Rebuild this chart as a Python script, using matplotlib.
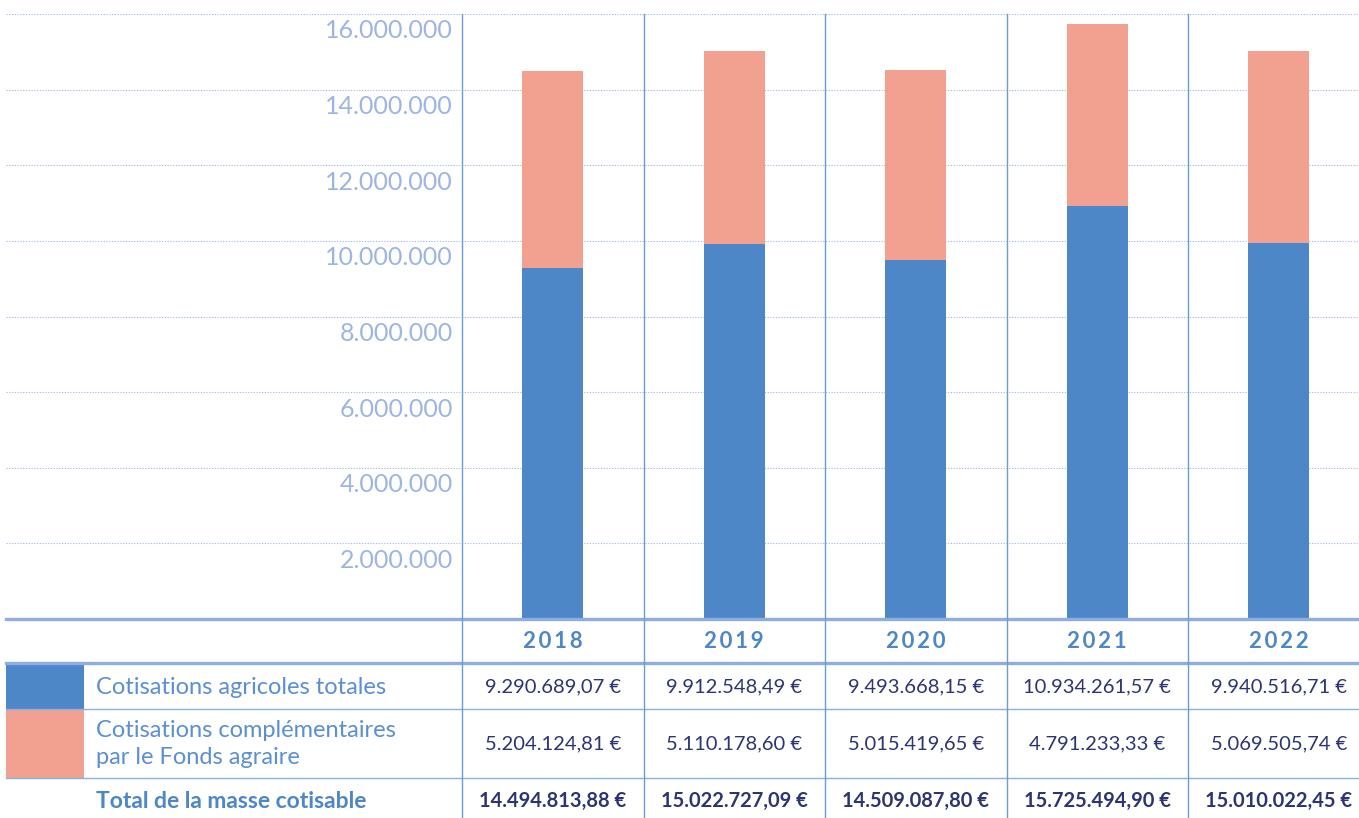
import matplotlib.pyplot as plt
from matplotlib.transforms import offset_copy
from matplotlib.patches import Rectangle

plt.rcParams['font.family'] = ['Lato', 'DejaVu Sans']

# Données
annees = ['2018', '2019', '2020', '2021', '2022']
cotis_agricoles = [9290689.07, 9912548.49, 9493668.15, 10934261.57, 9940516.71]
cotis_complementaires = [5204124.81, 5110178.60, 5015419.65, 4791233.33, 5069505.74]
totaux = [14494813.88, 15022727.09, 14509087.80, 15725494.90, 15010022.45]
graduations = [2e6, 4e6, 6e6, 8e6, 10e6, 12e6, 14e6, 16e6]
libelles = ['Cotisations agricoles totales',
            'Cotisations complémentaires\npar le Fonds agraire',
            'Total de la masse cotisable']

bleu = '#4D87C7'
saumon = '#F2A08F'
bleu_clair = '#9DB5E3'
bleu_texte = '#5A8FD3'
marine = '#2B3572'
ligne = '#8EAEE0'


def euro(v):
    s = f'{v:,.2f}'.replace(',', ' ').replace('.', ',').replace(' ', '.')
    return s + ' €'


W, H = 1359, 818
fig = plt.figure(figsize=(W / 100, H / 100), dpi=100)

# Zone du graphique (px : x 6 -> 1359, y 14 -> 619)
col_w = 181.5
x0_px = 462
ax = fig.add_axes([6 / W, (H - 619) / H, (W - 6) / W, (619 - 14) / H])
ax.set_ylim(0, 16e6)
ax.set_xlim(-0.5 - (x0_px - 6) / col_w, -0.5 + (W - x0_px) / col_w)
x = list(range(len(annees)))
ax.bar(x, cotis_agricoles, width=0.336, color=bleu, zorder=3)
ax.bar(x, cotis_complementaires, bottom=cotis_agricoles, width=0.336, color=saumon, zorder=3)
ax.set_yticks(graduations)
ax.yaxis.grid(True, linestyle=(0, (1, 1.5)), color=bleu_clair, linewidth=0.8)
ax.tick_params(left=False, labelleft=False, bottom=False, labelbottom=False)
for s in ax.spines.values():
    s.set_visible(False)
ax.patch.set_alpha(0)

trans = offset_copy(ax.transData, fig=fig, x=-9, y=-17, units='dots')
for g in graduations:
    ax.text(-0.5, g, f'{int(g):,}'.replace(',', '.'), transform=trans,
            ha='right', va='center', fontsize=18, color=bleu_clair, clip_on=False)

# Calque du tableau en pixels
ov = fig.add_axes([0, 0, 1, 1])
ov.set_xlim(0, W)
ov.set_ylim(H, 0)
ov.axis('off')
ov.patch.set_alpha(0)

# lignes horizontales
ov.plot([6, W], [619, 619], color=ligne, lw=2.4)
ov.plot([6, W], [663, 663], color=ligne, lw=2.4)
ov.plot([6, W], [709, 709], color=ligne, lw=1.0)
ov.plot([6, W], [778, 778], color=ligne, lw=1.0)
# lignes verticales
for i in range(len(annees)):
    xv = x0_px + i * col_w
    ov.plot([xv, xv], [14, H], color='#6A9BD6', lw=1.0)

# pastilles de couleur
ov.add_patch(Rectangle((6, 663), 78, 46, color=bleu, lw=0))
ov.add_patch(Rectangle((6, 709), 78, 69, color=saumon, lw=0))

# libellés
ov.text(96, 687, libelles[0], fontsize=17, color=bleu_texte, va='center', ha='left')
ov.text(96, 744, libelles[1], fontsize=17, color=bleu_texte, va='center', ha='left',
        linespacing=1.3)
ov.text(96, 801, libelles[2], fontsize=16.5, color=bleu, va='center', ha='left',
        fontweight='bold')

for i, a in enumerate(annees):
    xc = x0_px + (i + 0.5) * col_w
    ov.text(xc, 642, '\u2009'.join(a), fontsize=16, color=bleu, ha='center', va='center',
            fontweight='bold')
    ov.text(xc, 687, euro(cotis_agricoles[i]), fontsize=14.5, color=marine,
            ha='center', va='center')
    ov.text(xc, 744, euro(cotis_complementaires[i]), fontsize=14.5, color=marine,
            ha='center', va='center')
    ov.text(xc, 801, euro(totaux[i]), fontsize=14.5, color=marine,
            ha='center', va='center', fontweight='bold')

fig.savefig('out.png', dpi=100)
